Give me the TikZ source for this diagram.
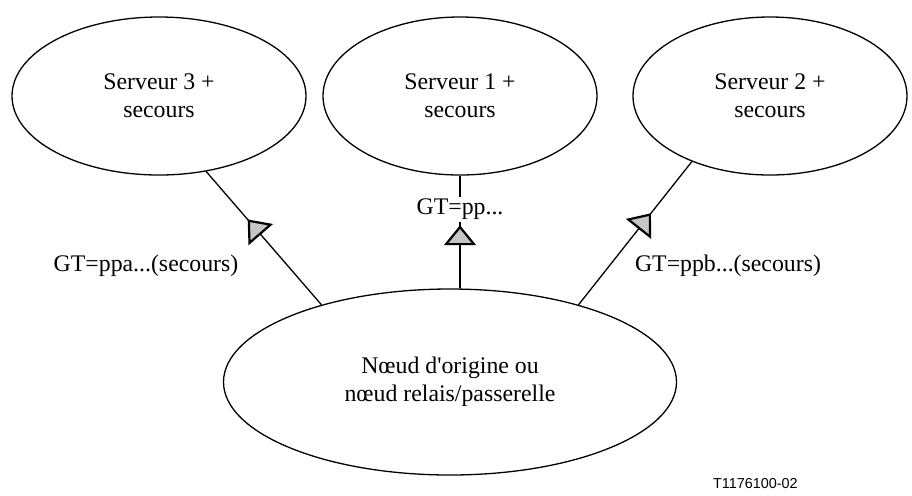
\documentclass[tikz,border=0pt]{standalone}
\usepackage{fontspec}
\setmainfont{Liberation Serif}
\newfontfamily\labelfont{Liberation Sans}
\usetikzlibrary{shapes.geometric,arrows.meta,decorations.markings}

\begin{document}
\begin{tikzpicture}[
        x=0.5pt, y=-0.5pt,
        font=\fontsize{11.9}{14}\selectfont,
        server/.style={draw, ellipse, line width=0.65pt, minimum width=137pt, minimum height=79pt, align=center, inner sep=0pt},
        midarrow/.style={line width=0.65pt, postaction={decorate},
            decoration={markings, mark=at position #1 with {\arrow{Triangle[length=10pt, width=16pt, line width=1.1pt, fill=gray!45]}}}},
        lbl/.style={inner sep=1pt}
    ]
        \useasboundingbox (0,0) rectangle (912,495);

        \node[server, minimum width=147pt] (srv3) at (159,96) {Serveur 3 +\\secours};
        \node[server] (srv1) at (460,96) {Serveur 1 +\\secours};
        \node[server] (srv2) at (770,96) {Serveur 2 +\\secours};
        \node[server, minimum width=226.5pt, minimum height=93pt] (orig) at (450,382) {N\oe ud d\textquotesingle origine ou\\n\oe ud relais/passerelle};

        \draw[midarrow=0.64] (orig.149) -- (srv3.-58);
        \draw[midarrow=0.56] (srv1.south |- orig.north) -- node[pos=0.7, lbl, fill=white] {GT=pp...} (srv1.south);
        \draw[midarrow=0.64] (orig.31) -- (srv2.-140);

        \node[lbl] (lbl3) at (146,266) {GT=ppa...(secours)};
        \node[lbl] (lbl2) at (728,266) {GT=ppb...(secours)};

        \node[font=\labelfont\fontsize{7.2}{9}\selectfont, anchor=west] (ref) at (706,484) {T1176100-02};
    \end{tikzpicture}
\end{document}
